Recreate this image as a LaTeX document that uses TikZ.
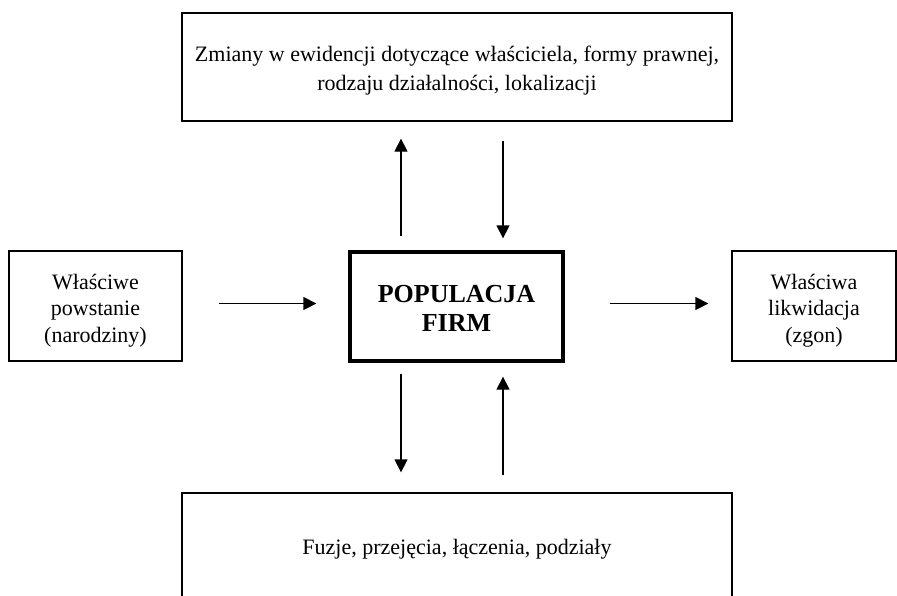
\documentclass[tikz,border=0pt]{standalone}
\usepackage{fontspec}
\setmainfont{Liberation Serif}
\usetikzlibrary{arrows.meta}
\begin{document}
\begin{tikzpicture}[x=1pt,y=-1pt,
  box/.style={draw, line width=1.3pt, inner sep=0pt},
  mainbox/.style={draw, line width=3.3pt, inner sep=0pt},
  txt/.style={align=center, inner sep=0pt, font=\fontsize{22}{26.5}\selectfont},
  maintxt/.style={align=center, inner sep=0pt, font=\fontsize{26}{29.5}\selectfont\bfseries},
  arr/.style={line width=1.3pt, -{Triangle[length=13pt,width=13pt]}}]
\useasboundingbox (0,0) rectangle (897,595);
\clip (0,0) rectangle (897,595);
\fill[white] (0,0) rectangle (897,595);
% boxes
\node[box, minimum width=550pt, minimum height=108pt] (T) at (457,67) {};
\node[box, minimum width=173pt, minimum height=110pt] (L) at (95.5,306) {};
\node[mainbox, minimum width=213pt, minimum height=109pt] (C) at (456.5,306.5) {};
\node[box, minimum width=164pt, minimum height=110pt] (R) at (814,306) {};
\node[box, minimum width=550pt, minimum height=108pt] (B) at (457,547) {};
% texts
\node[txt, font=\fontsize{22}{29}\selectfont] (Tt) at ([yshift=-4pt]T.center)
  {Zmiany w ewidencji dotyczące właściciela, formy prawnej,\\rodzaju działalności, lokalizacji};
\node[txt] (Lt) at ([yshift=-4.5pt]L.center) {Właściwe\\powstanie\\(narodziny)};
\node[maintxt] (Ct) at ([yshift=-2pt]C.center) {POPULACJA\\FIRM};
\node[txt] (Rt) at ([yshift=-4.5pt]R.center) {Właściwa\\likwidacja\\(zgon)};
\node[txt] (Bt) at ([yshift=-2pt]B.center) {Fuzje, przejęcia, łączenia, podziały};
% connectors
\coordinate (xa) at (401,0);
\coordinate (xb) at (503,0);
\coordinate (ym) at (0,303.5);
\draw[arr, shorten <=36pt, shorten >=32pt] (L.east |- ym) -- (C.west |- ym);
\draw[arr, shorten <=45pt, shorten >=23pt] (C.east |- ym) -- (R.west |- ym);
\draw[arr, shorten <=14pt, shorten >=17pt] (C.north -| xa) -- (T.south -| xa);
\draw[arr, shorten <=19pt, shorten >=12pt] (T.south -| xb) -- (C.north -| xb);
\draw[arr, shorten <=11pt, shorten >=20pt] (C.south -| xa) -- (B.north -| xa);
\draw[arr, shorten <=17pt, shorten >=14pt] (B.north -| xb) -- (C.south -| xb);
\end{tikzpicture}
\end{document}
